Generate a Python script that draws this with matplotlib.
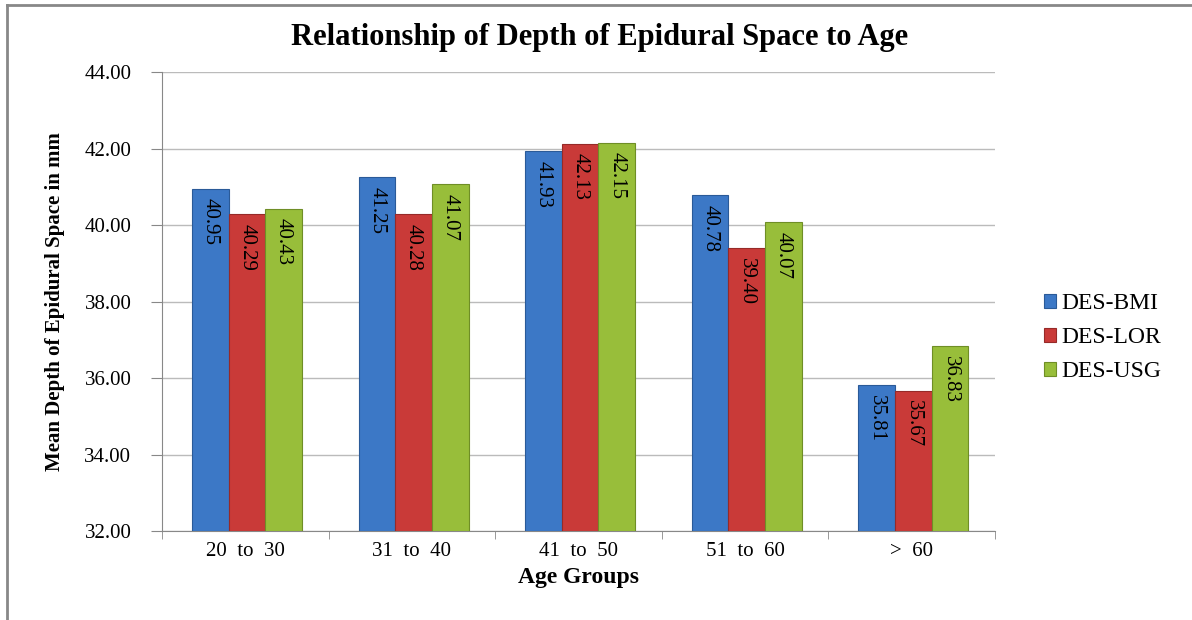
import numpy as np
import matplotlib.pyplot as plt
from matplotlib.lines import Line2D

plt.rcParams['font.family'] = ['Liberation Serif', 'DejaVu Serif']

groups = ['20 to 30', '31 to 40', '41 to 50', '51 to 60', '> 60']
series = ['DES-BMI', 'DES-LOR', 'DES-USG']
des_bmi = [40.95, 41.25, 41.93, 40.78, 35.81]
des_lor = [40.29, 40.28, 42.13, 39.40, 35.67]
des_usg = [40.43, 41.07, 42.15, 40.07, 36.83]
colors = ['#3C78C6', '#C93A38', '#98BE3A']
edges = ['#2A5A98', '#962A28', '#6F8E26']

fig = plt.figure(figsize=(11.92, 6.2), dpi=100)
ax = fig.add_axes([0.1359, 0.1435, 0.6988, 0.7403])

x = np.arange(len(groups))
w = 0.22
for k, vals in enumerate([des_bmi, des_lor, des_usg]):
    pos = x + (k - 1) * w + 0.01
    ax.bar(pos, np.array(vals) - 32, bottom=32, width=w, color=colors[k],
           edgecolor=edges[k], linewidth=0.8, label=series[k], zorder=3)
    for p, v in zip(pos, vals):
        ax.text(p, v - 0.25, '%.2f' % v, rotation=270, ha='center', va='top',
                fontsize=15, zorder=4)

ax.set_ylim(32, 44)
ax.set_xlim(-0.5, len(groups) - 0.5)
ax.set_yticks(np.arange(32, 44.1, 2))
ax.set_yticklabels(['%.2f' % t for t in np.arange(32, 44.1, 2)], fontsize=15)
ax.set_xticks(x)
ax.set_xticklabels([g.replace(' ', '  ') for g in groups], fontsize=15)
ax.set_xticks(np.arange(-0.5, len(groups)), minor=True)
ax.tick_params(axis='x', which='major', length=0, pad=8)
ax.tick_params(axis='x', which='minor', length=6, color='#888888')
ax.tick_params(axis='y', length=8, color='#888888', pad=14)
ax.grid(axis='y', color='#BBBBBB', linewidth=1, zorder=0)
for s in ['top', 'right']:
    ax.spines[s].set_visible(False)
for s in ['left', 'bottom']:
    ax.spines[s].set_color('#888888')

ax.set_xlabel('Age Groups', fontsize=17, fontweight='bold', labelpad=4)
ax.set_ylabel('Mean Depth of Epidural Space in mm', fontsize=15, fontweight='bold', labelpad=14)
fig.text(0.503, 0.94, 'Relationship of Depth of Epidural Space to Age', ha='center',
         va='center', fontsize=22, fontweight='bold')

fig.legend(loc='center left', bbox_to_anchor=(0.858, 0.455), frameon=False,
           fontsize=17, handlelength=0.5, handleheight=0.5, labelspacing=0.55,
           handletextpad=0.25)

fig.add_artist(Line2D([7 / 1192, 7 / 1192], [0, 1 - 5 / 620], color='#888888', lw=2))
fig.add_artist(Line2D([7 / 1192, 1], [1 - 5 / 620, 1 - 5 / 620], color='#888888', lw=2))

fig.savefig('out.png', dpi=100)
